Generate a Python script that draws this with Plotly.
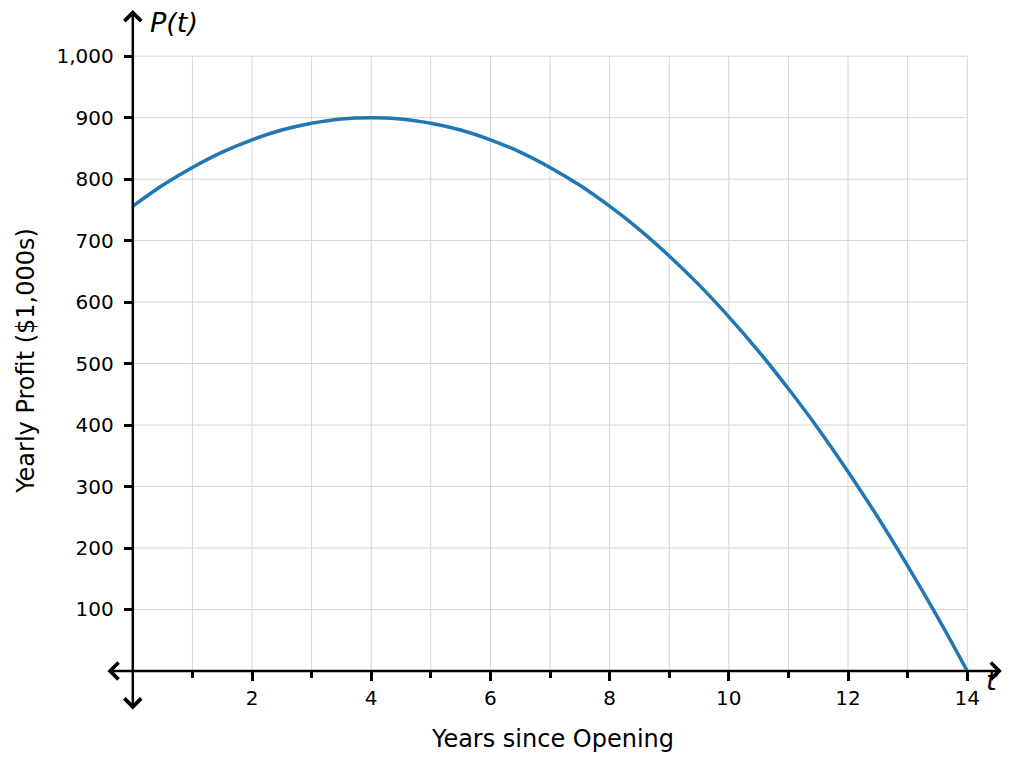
import plotly.graph_objects as go

# Data
t_years = [0, 0.5, 1, 1.5, 2, 2.5, 3, 3.5, 4, 4.5, 5, 5.5, 6, 6.5, 7, 7.5,
           8, 8.5, 9, 9.5, 10, 10.5, 11, 11.5, 12, 12.5, 13, 13.5, 14]
profit = [756, 790, 819, 844, 864, 880, 891, 898, 900, 898, 891, 880, 864, 844, 819, 790,
          756, 718, 675, 628, 576, 520, 459, 394, 324, 250, 171, 88, 0]

x_major_ticks = [2, 4, 6, 8, 10, 12, 14]
x_minor_ticks = [1, 3, 5, 7, 9, 11, 13]
y_ticks = [100, 200, 300, 400, 500, 600, 700, 800, 900, 1000]
x_grid = list(range(1, 15))
y_grid = y_ticks

XMIN, XMAX = -0.5, 14.6
YMIN, YMAX = -70, 1080
FONT = "DejaVu Sans"

fig = go.Figure()
fig.add_trace(go.Scatter(x=t_years, y=profit, mode="lines",
                         line=dict(color="#1f77b4", width=3.5, shape="spline"),
                         hoverinfo="skip", showlegend=False))

shapes = []
for v in x_grid:
    shapes.append(dict(type="line", xref="x", yref="y", x0=v, x1=v, y0=0, y1=max(y_grid),
                       line=dict(color="#d4d4d4", width=1), layer="below"))
for v in y_grid:
    shapes.append(dict(type="line", xref="x", yref="y", x0=0, x1=max(x_grid), y0=v, y1=v,
                       line=dict(color="#d4d4d4", width=1), layer="below"))

annotations = [
    # x axis with arrowheads on both ends
    dict(x=14.58, y=0, ax=-0.45, ay=0, xref="x", yref="y", axref="x", ayref="y",
         showarrow=True, arrowhead=4, startarrowhead=4, arrowside="end+start",
         arrowsize=1.3, startarrowsize=1.3, arrowwidth=2.5, arrowcolor="black", text="",
         standoff=0, startstandoff=0),
    # y axis
    dict(x=0, y=1075, ax=0, ay=-65, xref="x", yref="y", axref="x", ayref="y",
         showarrow=True, arrowhead=4, startarrowhead=4, arrowside="end+start",
         arrowsize=1.3, startarrowsize=1.3, arrowwidth=2.5, arrowcolor="black", text="",
         standoff=0, startstandoff=0),
    dict(x=0.26, y=1054, xref="x", yref="y", text="<i>P(t)</i>", showarrow=False,
         xanchor="left", yanchor="middle", font=dict(family=FONT, size=27, color="black")),
    dict(x=14.28, y=-15, xref="x", yref="y", text="<i>t</i>", showarrow=False,
         xanchor="left", yanchor="middle", font=dict(family=FONT, size=27, color="black")),
]

fig.update_layout(
    width=1015, height=762,
    margin=dict(l=103, r=12, t=7, b=48),
    paper_bgcolor="white", plot_bgcolor="white",
    font=dict(family=FONT, size=21, color="black"),
    shapes=shapes, annotations=annotations,
    xaxis=dict(range=[XMIN, XMAX], showgrid=False, zeroline=False, showline=False,
               anchor="free", position=(0 - YMIN) / (YMAX - YMIN),
               tickvals=x_major_ticks, ticks="outside", ticklen=9, tickwidth=2.5,
               tickcolor="black", tickfont=dict(size=20),
               minor=dict(tickvals=x_minor_ticks, ticks="outside", ticklen=6,
                          tickwidth=2.5, tickcolor="black", showgrid=False),
               title=dict(text="Years since Opening", font=dict(size=24), standoff=21)),
    yaxis=dict(range=[YMIN, YMAX], showgrid=False, zeroline=False, showline=False,
               anchor="free", position=(0 - XMIN) / (XMAX - XMIN),
               tickvals=y_ticks, tickformat=",", ticks="outside", ticklen=9,
               tickwidth=2.5, tickcolor="black", tickfont=dict(size=20),
               ticklabelstandoff=6,
               title=dict(text="Yearly Profit ($1,000s)", font=dict(size=24), standoff=14)),
)

fig.write_html("out.html")
